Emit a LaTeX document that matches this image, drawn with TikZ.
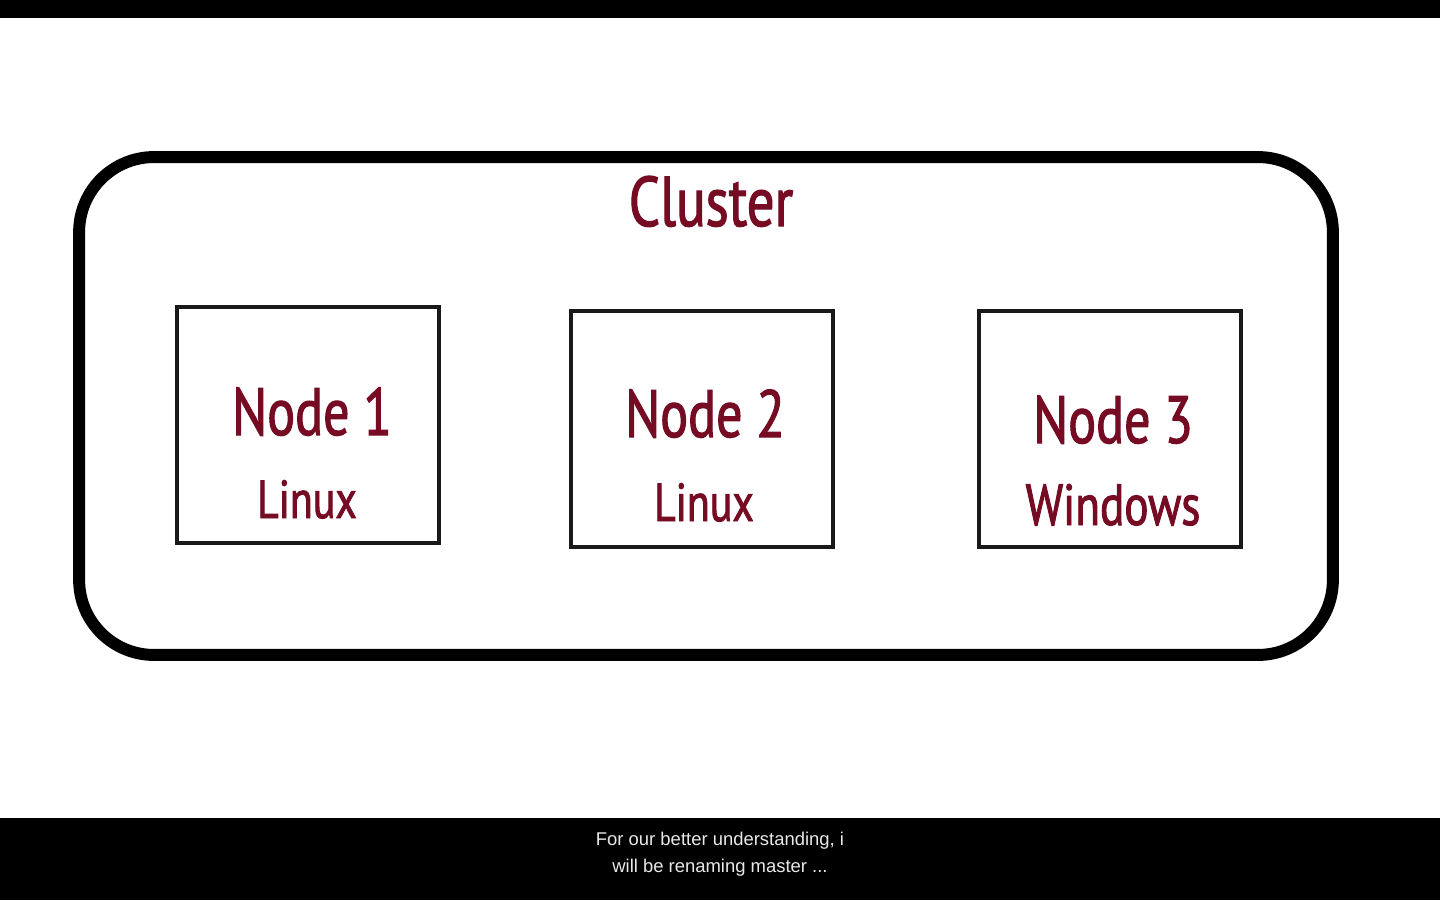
\documentclass[tikz,border=0pt]{standalone}
\usepackage{fontspec}
\setmainfont{PT Sans}[FakeStretch=0.78, FakeBold=1.6]
\newfontfamily\subfont{Liberation Sans}
\usepackage{tikz}
\usetikzlibrary{positioning}
\definecolor{darkmaroon}{RGB}{118,12,36}
\definecolor{subgrey}{RGB}{232,232,232}
\tikzset{
  clusterbox/.style={draw=black, line width=6.8pt, rounded corners=1.5cm,
    minimum width=25.08cm, minimum height=9.96cm, inner sep=0pt},
  hostbox/.style={draw=black!90, line width=2.2pt, fill=white,
    minimum width=5.24cm, minimum height=4.72cm, inner sep=0pt},
  bigname/.style={text=darkmaroon, anchor=base, inner sep=0pt,
    font=\fontsize{38}{40}\selectfont},
  osname/.style={text=darkmaroon, anchor=base, inner sep=0pt,
    font=\fontsize{30.5}{32}\selectfont},
  caption/.style={text=subgrey, anchor=base, inner sep=0pt,
    font=\subfont\fontsize{10.5}{12}\selectfont}
}
\begin{document}
\begin{tikzpicture}[x=0.02cm, y=-0.02cm]
  \useasboundingbox (0,0) rectangle (1440,900);
  \fill[white] (0,0) rectangle (1440,900);
  % Video bars top and bottom.
  \fill[black] (0,0) rectangle (1440,18);
  \fill[black] (0,818) rectangle (1440,900);

  % The cluster frame.
  \node[clusterbox] (cluster) at (706,406) {};
  \node[bigname, font=\fontsize{40}{42}\selectfont] (clustertitle) at (711,226) {Cluster};

  % Three hosts.
  \node[hostbox] (host1) at (308,425) {};
  \node[hostbox] (host2) at (702,429) {};
  \node[hostbox] (host3) at (1110,429) {};

  \node[bigname] (name1) at (312,435) {Node 1};
  \node[osname] (os1) at (307,518) {Linux};
  \node[bigname] (name2) at (705,437) {Node 2};
  \node[osname] (os2) at (704,521) {Linux};
  \node[bigname] (name3) at (1113,443) {Node 3};
  \node[osname, font=\fontsize{33}{35}\selectfont] (os3) at (1113,525) {Windows};

  % Subtitle.
  \node[caption] (sub1) at (720,845) {For our better understanding, i};
  \node[caption] (sub2) at (720,872) {will be renaming master ...};
\end{tikzpicture}
\end{document}
